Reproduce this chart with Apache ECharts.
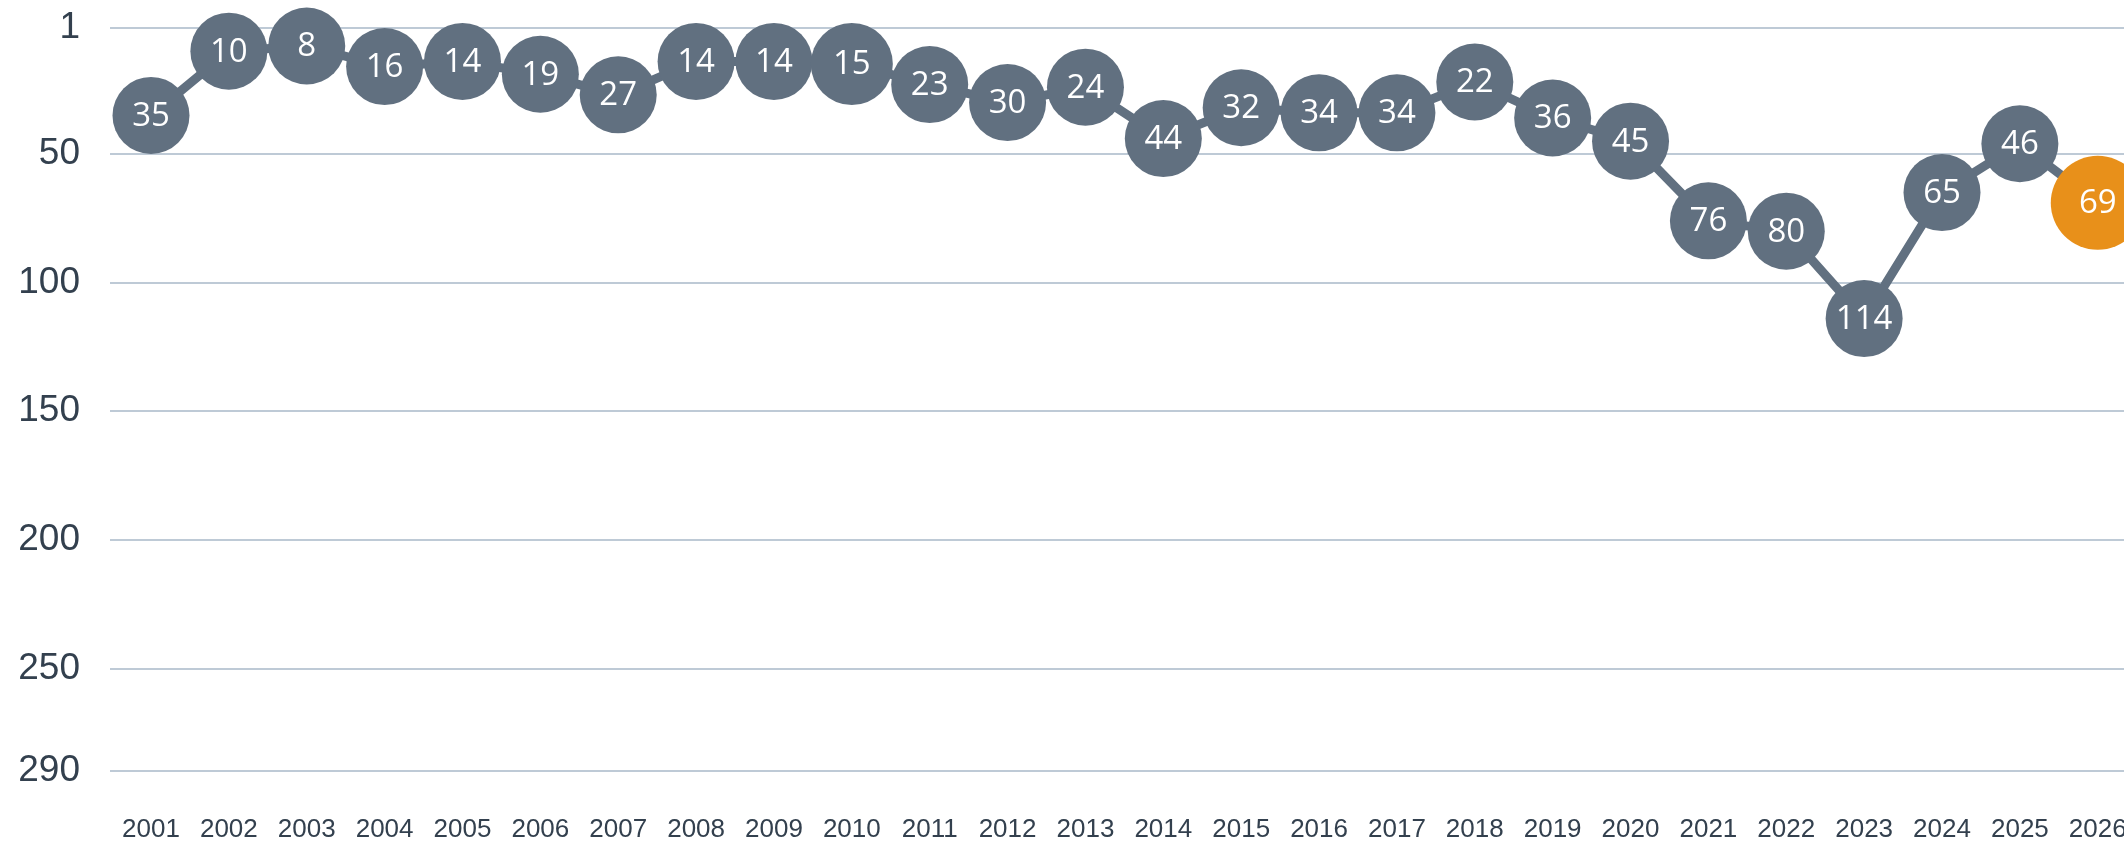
<!DOCTYPE html>
<html>
<head>
<meta charset="utf-8">
<style>
  html, body { margin: 0; padding: 0; background: #ffffff; }
  #chart { width: 2124px; height: 843px; }
</style>
<script src="https://cdn.jsdelivr.net/npm/echarts@6/dist/echarts.min.js"></script>
</head>
<body>
<div id="chart"></div>
<script>
// ---- data ----
var years = ['2001','2002','2003','2004','2005','2006','2007','2008','2009','2010','2011','2012','2013',
             '2014','2015','2016','2017','2018','2019','2020','2021','2022','2023','2024','2025','2026'];
var ranks = [35, 10, 8, 16, 14, 19, 27, 14, 14, 15, 23, 30, 24,
             44, 32, 34, 34, 22, 36, 45, 76, 80, 114, 65, 46, 69];
var yTickValues = [1, 50, 100, 150, 200, 250, 290];
var highlightYear = '2026';

// ---- styles ----
var GREY = '#617080';
var ORANGE = '#E8901A';
var TEXT = '#33404e';
var Y_MIN = 1, Y_MAX = 290;
var TOP = 28, HEIGHT = 743.2;

var seriesData = ranks.map(function (v, i) {
  var isHi = years[i] === highlightYear;
  return {
    value: v,
    symbolSize: isHi ? 94 : (years[i] === '2010' ? 82 : 77),
    itemStyle: { color: isHi ? ORANGE : GREY }
  };
});

var chart = echarts.init(document.getElementById('chart'), null, { renderer: 'canvas' });
chart.setOption({
  animation: false,
  backgroundColor: '#ffffff',
  grid: [
    { left: 110, right: 0, top: TOP, height: HEIGHT, outerBoundsMode: 'none', containLabel: false },
    { left: 151, width: 1946.75, top: TOP, height: HEIGHT, outerBoundsMode: 'none', containLabel: false }
  ],
  xAxis: [
    { gridIndex: 0, type: 'value', show: false, min: 0, max: 1 },
    {
      gridIndex: 1,
      type: 'category',
      data: years,
      boundaryGap: false,
      axisLine: { show: false },
      axisTick: { show: false },
      splitLine: { show: false },
      axisLabel: {
        color: TEXT,
        fontFamily: '"Liberation Sans", Arial, sans-serif',
        fontSize: 26,
        margin: 46,
        hideOverlap: false
      }
    }
  ],
  yAxis: [
    {
      gridIndex: 0,
      type: 'value',
      inverse: true,
      min: Y_MIN,
      max: Y_MAX,
      axisLine: { show: false },
      axisTick: { show: false, customValues: yTickValues },
      axisLabel: {
        customValues: yTickValues,
        color: TEXT,
        fontFamily: '"Liberation Sans", Arial, sans-serif',
        fontSize: 37,
        margin: 30
      },
      splitLine: { show: true, lineStyle: { color: '#a9b8c8', width: 1.5 } }
    },
    {
      gridIndex: 1,
      type: 'value',
      inverse: true,
      min: Y_MIN,
      max: Y_MAX,
      show: false,
      splitLine: { show: false }
    }
  ],
  series: [{
    type: 'line',
    xAxisIndex: 1,
    yAxisIndex: 1,
    data: seriesData,
    clip: false,
    symbol: 'circle',
    lineStyle: { color: GREY, width: 9 },
    label: {
      show: true,
      position: 'inside',
      color: '#ffffff',
      fontFamily: '"Open Sans", "Noto Sans", sans-serif',
      fontSize: 33,
      fontWeight: 500,
      offset: [0, 1]
    },
    emphasis: { disabled: true }
  }]
});
</script>
</body>
</html>
